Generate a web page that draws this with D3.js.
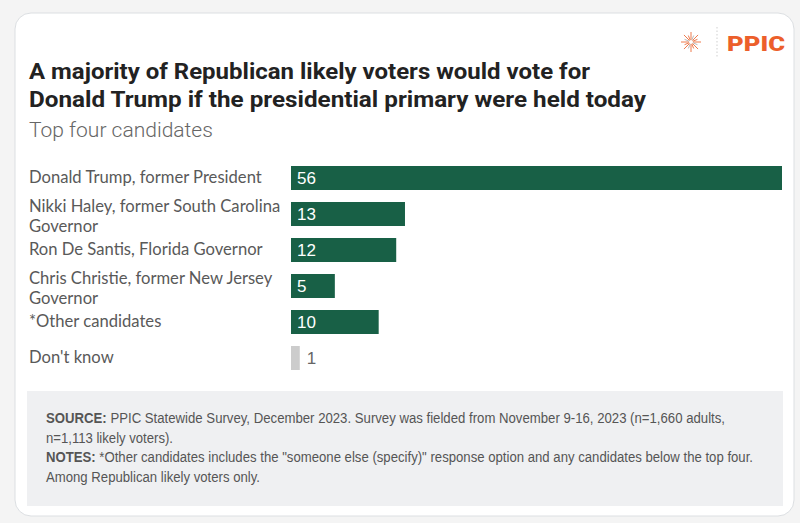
<!DOCTYPE html>
<html>
<head>
<meta charset="utf-8">
<script src="https://cdn.jsdelivr.net/npm/d3@7"></script>
<style>
  html, body { margin: 0; padding: 0; background: #f4f4f4; }
  svg { display: block; }
</style>
</head>
<body>
<div id="chart"></div>
<script>
// -------------------- DATA --------------------
const CATEGORIES = [
  "Donald Trump, former President",
  "Nikki Haley, former South Carolina\nGovernor",
  "Ron De Santis, Florida Governor",
  "Chris Christie, former New Jersey\nGovernor",
  "*Other candidates",
  "Don't know"
];
const VALUES = [56, 13, 12, 5, 10, 1];
const MUTED = [false, false, false, false, false, true];

const TITLE_LINES = [
  "A majority of Republican likely voters would vote for",
  "Donald Trump if the presidential primary were held today"
];
const SUBTITLE = "Top four candidates";
const FOOTER_LINES = [
  { bold: "SOURCE:", text: " PPIC Statewide Survey, December 2023. Survey was fielded from November 9-16, 2023 (n=1,660 adults," },
  { bold: "", text: "n=1,113 likely voters)." },
  { bold: "NOTES:", text: " *Other candidates includes the \"someone else (specify)\" response option and any candidates below the top four." },
  { bold: "", text: "Among Republican likely voters only." }
];

// -------------------- SETUP --------------------
const W = 800, H = 523;
const svg = d3.select("#chart").append("svg")
  .attr("width", W).attr("height", H);

// card
svg.append("rect")
  .attr("x", 15).attr("y", 13)
  .attr("width", 779).attr("height", 503)
  .attr("rx", 16).attr("ry", 16)
  .attr("fill", "#fff")
  .attr("stroke", "#dcdfe2")
  .attr("stroke-width", 1);

// fit a text element's font-size so its width hits target
function fitWidth(sel, target) {
  const node = sel.node();
  const size = parseFloat(sel.attr("font-size"));
  const w = node.getComputedTextLength();
  sel.attr("font-size", (size * target / w).toFixed(2));
}

// -------------------- LOGO --------------------
const logo = svg.append("g").attr("transform", "translate(691,42)");
d3.range(16).forEach(i => {
  const a = i / 16 * Math.PI * 2;
  const r = i % 2 === 0 ? 10 : 7;
  logo.append("line")
    .attr("x1", Math.cos(a) * 2).attr("y1", Math.sin(a) * 2)
    .attr("x2", Math.cos(a) * r).attr("y2", Math.sin(a) * r)
    .attr("stroke", i % 4 === 1 ? "#b9b9b9" : "#ee7a4c")
    .attr("stroke-width", 1);
});
svg.append("line")
  .attr("x1", 717).attr("x2", 717).attr("y1", 27).attr("y2", 58)
  .attr("stroke", "#cfcfcf").attr("stroke-dasharray", "1.5,2");
svg.append("text")
  .attr("x", 727).attr("y", 51)
  .attr("font-family", "Roboto, sans-serif")
  .attr("font-weight", 900)
  .attr("font-size", 21)
  .attr("fill", "#ec5f2b")
  .attr("textLength", 58)
  .attr("lengthAdjust", "spacingAndGlyphs")
  .text("PPIC");

// -------------------- TITLE --------------------
const titleTargets = [561, 617];
TITLE_LINES.forEach((t, i) => {
  svg.append("text")
    .attr("x", 29).attr("y", 79 + i * 28)
    .attr("font-family", "Roboto, sans-serif")
    .attr("font-weight", 700)
    .attr("font-size", 22.5)
    .attr("fill", "#222")
    .attr("textLength", titleTargets[i])
    .attr("lengthAdjust", "spacingAndGlyphs")
    .text(t);
});
const sub = svg.append("text")
  .attr("x", 29).attr("y", 137)
  .attr("font-family", "Roboto, sans-serif")
  .attr("font-weight", 300)
  .attr("font-size", 19)
  .attr("fill", "#666")
  .text(SUBTITLE);
fitWidth(sub, 184);

// -------------------- SCALES --------------------
const x = d3.scaleLinear()
  .domain([0, d3.max(VALUES)])
  .range([291, 782]);

const y = d3.scaleBand()
  .domain(CATEGORIES)
  .range([166, 370])
  .paddingInner(12 / 36)
  .paddingOuter(0);

// -------------------- BARS --------------------
const rows = svg.append("g").selectAll("g")
  .data(CATEGORIES.map((c, i) => ({ cat: c, value: VALUES[i], muted: MUTED[i] })))
  .join("g");

rows.append("rect")
  .attr("x", x(0))
  .attr("y", d => y(d.cat))
  .attr("width", d => x(d.value) - x(0))
  .attr("height", y.bandwidth())
  .attr("fill", d => d.muted ? "#cccccc" : "#186046");

rows.append("text")
  .attr("x", d => d.muted ? x(d.value) + 7 : x(0) + 6)
  .attr("y", d => y(d.cat) + y.bandwidth() / 2 + 6)
  .attr("font-family", "'Liberation Sans', Arial, sans-serif")
  .attr("font-size", 17)
  .attr("fill", d => d.muted ? "#666" : "#fff")
  .text(d => d.value);

// category labels
const labelSize = 15;
rows.each(function (d) {
  const lines = d.cat.split("\n");
  const cy = y(d.cat) + y.bandwidth() / 2;
  const t = d3.select(this).append("text")
    .attr("class", "cat-label")
    .attr("font-family", "Lato, 'Open Sans', sans-serif")
    .attr("font-size", labelSize)
    .attr("fill", "#595959");
  lines.forEach((ln, j) => {
    t.append("tspan")
      .attr("x", 29)
      .attr("y", cy + 5 - (lines.length - 1) * 7 + j * 20)
      .text(ln);
  });
});
// scale labels so the first label spans its measured width
const firstLabel = svg.select(".cat-label");
const lw = firstLabel.node().getComputedTextLength();
svg.selectAll(".cat-label").attr("font-size", (labelSize * 233 / lw).toFixed(2));

// -------------------- FOOTER --------------------
svg.append("rect")
  .attr("x", 27).attr("y", 391)
  .attr("width", 756).attr("height", 115)
  .attr("fill", "#eff0f2");

// narrow look: each line squeezed to its width in the reference
const footerWidths = [679, 127, 707, 214];
const footer = svg.append("g");
FOOTER_LINES.forEach((l, i) => {
  const t = footer.append("text")
    .attr("x", 46).attr("y", 423 + i * 19.6)
    .attr("font-family", "'Liberation Sans', Arial, sans-serif")
    .attr("font-size", 14)
    .attr("fill", "#555")
    .attr("textLength", footerWidths[i])
    .attr("lengthAdjust", "spacingAndGlyphs");
  if (l.bold) t.append("tspan").attr("font-weight", 700).text(l.bold);
  t.append("tspan").text(l.text);
});
</script>
</body>
</html>
